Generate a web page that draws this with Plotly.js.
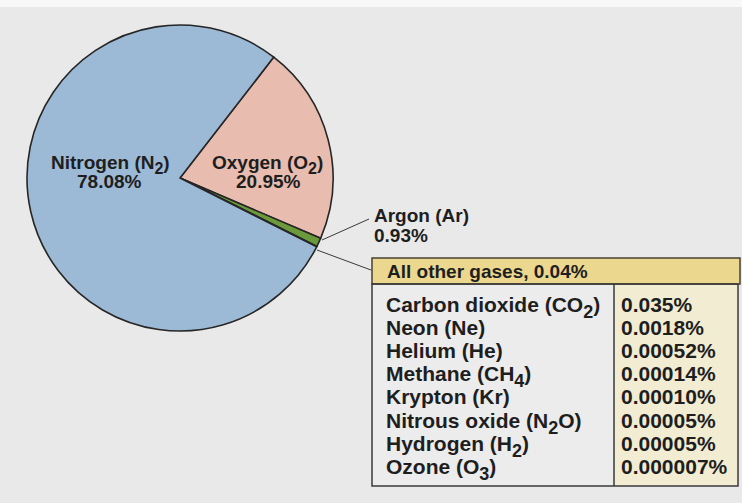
<!DOCTYPE html>
<html>
<head>
<meta charset="utf-8">
<script src="https://cdn.plot.ly/plotly-3.0.1.min.js"></script>
<style>html,body{margin:0;padding:0;background:#e9e9e9;}#chart{width:742px;height:503px;}</style>
</head>
<body>
<div id="chart"></div>
<script>
// ---- data ----
const mainGases = ['Oxygen (O<sub>2</sub>)', 'Argon (Ar)', 'All other gases', 'Nitrogen (N<sub>2</sub>)'];
const mainPercent = [20.95, 0.93, 0.04, 78.08];
const traceGases = ['Carbon dioxide (CO<sub>2</sub>)', 'Neon (Ne)', 'Helium (He)', 'Methane (CH<sub>4</sub>)',
  'Krypton (Kr)', 'Nitrous oxide (N<sub>2</sub>O)', 'Hydrogen (H<sub>2</sub>)', 'Ozone (O<sub>3</sub>)'];
const tracePercent = [0.035, 0.0018, 0.00052, 0.00014, 0.00010, 0.00005, 0.00005, 0.000007];
const traceSigDigits = [2, 2, 2, 2, 2, 1, 1, 1];

// ---- layout helpers (pixel -> paper) ----
const W = 742, H = 503;
const X = p => p / W;
const Y = p => 1 - p / H;
const cx = 180, cy = 178, R = 153;

const sliceColors = ['#e8bcae', '#6b9a3c', '#3d5a22', '#9cbad6'];
const font = {family: 'Arial, "Liberation Sans", sans-serif', color: '#1e1e1e', weight: 'bold'};
const f = (size) => Object.assign({}, font, {size: size});
// larger, clearly lowered subscripts, as in the original artwork
const subShift = size => Math.round(size * 0.28);
const bigSub = (t, size) => t.replace(/<sub>(.*?)<\/sub>/g,
  (m, s) => '<span style="font-size:' + Math.round(size * 0.85) + 'px;baseline-shift:-' +
    subShift(size) + 'px">' + s + '</span>');

const pie = {
  type: 'pie',
  labels: mainGases,
  values: mainPercent,
  sort: false,
  direction: 'clockwise',
  rotation: 37.8,
  textinfo: 'none',
  hoverinfo: 'label+percent',
  showlegend: false,
  marker: {colors: sliceColors, line: {color: '#262626', width: 1.6}},
  domain: {x: [X(cx - R), X(cx + R)], y: [Y(cy + R), Y(cy - R)]}
};

const annotations = [];
function ann(text, px, py, size, xanchor) {
  // keep the main text on its line: compensate the box growth made by a lowered subscript
  const dy = /<sub>/.test(text) ? subShift(size) / 2 : 0;
  annotations.push({
    text: bigSub(text, size), xref: 'paper', yref: 'paper', x: X(px), y: Y(py + dy),
    xanchor: xanchor || 'center', yanchor: 'middle', showarrow: false,
    font: f(size), align: xanchor === 'left' ? 'left' : 'center'
  });
}
const pct = v => v.toFixed(2) + '%';

// pie labels
ann(mainGases[3], 110, 162, 19);
ann(pct(mainPercent[3]), 109, 181, 19);
ann(mainGases[0], 267, 162, 19);
ann(pct(mainPercent[0]), 268, 181, 19);
ann(mainGases[1], 372, 215, 19, 'left');
ann(pct(mainPercent[1]), 372, 235, 19, 'left');
// table header
ann(mainGases[2] + ', ' + pct(mainPercent[2]), 385, 271, 19, 'left');
// table rows
const rowY0 = 304, rowStep = 23.2;
traceGases.forEach((g, i) => {
  ann(g, 384, rowY0 + i * rowStep, 21, 'left');
  ann(tracePercent[i].toPrecision(traceSigDigits[i]) + '%', 619, rowY0 + i * rowStep, 21, 'left');
});

const shapes = [
  // light strip at top
  {type: 'rect', xref: 'paper', yref: 'paper', x0: 0, x1: 1, y0: Y(7), y1: 1, fillcolor: '#f8f8f8', line: {width: 0}, layer: 'below'},
  // leader lines
  {type: 'line', xref: 'paper', yref: 'paper', x0: X(322), y0: Y(240), x1: X(369), y1: Y(219), line: {color: '#3a3a3a', width: 1}},
  {type: 'line', xref: 'paper', yref: 'paper', x0: X(317), y0: Y(250), x1: X(371), y1: Y(270), line: {color: '#3a3a3a', width: 1}},
  // table body left
  {type: 'rect', xref: 'paper', yref: 'paper', x0: X(372), x1: X(614), y0: Y(486), y1: Y(284), fillcolor: '#ececec', line: {width: 0}, layer: 'below'},
  // table body right
  {type: 'rect', xref: 'paper', yref: 'paper', x0: X(614), x1: X(738), y0: Y(486), y1: Y(284), fillcolor: '#f1ecd2', line: {width: 0}, layer: 'below'},
  // header
  {type: 'rect', xref: 'paper', yref: 'paper', x0: X(372), x1: X(740), y0: Y(284), y1: Y(258), fillcolor: '#ebd78e', line: {color: '#4a4030', width: 1.5}, layer: 'below'},
  // body outline
  {type: 'rect', xref: 'paper', yref: 'paper', x0: X(372), x1: X(738), y0: Y(486), y1: Y(284), fillcolor: 'rgba(0,0,0,0)', line: {color: '#3a3a3a', width: 1.5}},
  // column divider
  {type: 'line', xref: 'paper', yref: 'paper', x0: X(614), x1: X(614), y0: Y(486), y1: Y(284), line: {color: '#3a3a3a', width: 1.5}}
];

const layout = {
  width: W, height: H,
  margin: {l: 0, r: 0, t: 0, b: 0},
  paper_bgcolor: '#e9e9e9',
  plot_bgcolor: '#e9e9e9',
  showlegend: false,
  annotations: annotations,
  shapes: shapes
};

Plotly.newPlot('chart', [pie], layout, {displayModeBar: false, staticPlot: true});
</script>
</body>
</html>
